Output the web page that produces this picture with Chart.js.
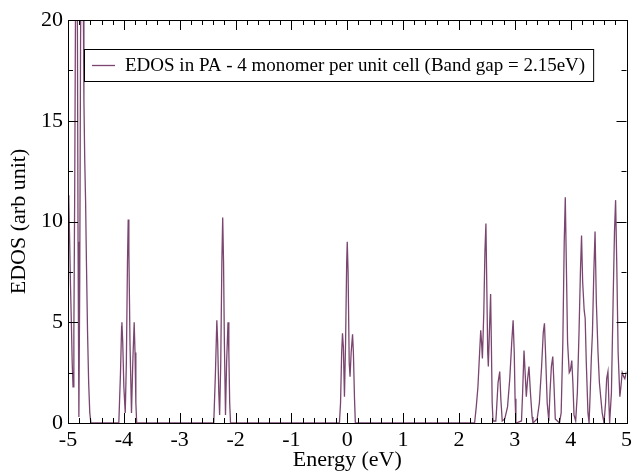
<!DOCTYPE html>
<html>
<head>
<meta charset="utf-8">
<script src="https://cdn.jsdelivr.net/npm/chart.js@4.4.1/dist/chart.umd.min.js"></script>
<style>
  html, body { margin: 0; padding: 0; background: #fff; }
  #wrap { width: 636px; height: 473px; }
</style>
</head>
<body>
<div id="wrap"><canvas id="edosChart" width="636" height="473"></canvas></div>
<script>
const energy = [
  // bottom valence region, peaks run off the top of the frame
  -5.00, -4.985, -4.97, -4.955, -4.94, -4.925, -4.91, -4.895, -4.88, -4.865, -4.85, -4.835, -4.82, -4.805,
  -4.79, -4.775, -4.76, -4.745, -4.73, -4.715, -4.70, -4.685, -4.67, -4.65, -4.63, -4.61, -4.59,
  // cluster near -4
  -4.09, -4.06, -4.04, -4.035, -4.02, -4.00, -3.975, -3.955, -3.935, -3.922, -3.91, -3.89, -3.863,
  -3.84, -3.815, -3.80, -3.785, -3.77,
  // cluster near -2.2
  -2.39, -2.36, -2.335, -2.32, -2.30, -2.285, -2.265, -2.245, -2.23, -2.215, -2.20, -2.18,
  -2.16, -2.135, -2.12, -2.105, -2.09,
  // cluster at 0
  -0.14, -0.12, -0.10, -0.085, -0.07, -0.05, -0.03, -0.01, 0.00, 0.015, 0.035, 0.05,
  0.07, 0.095, 0.11, 0.13, 0.145,
  // conduction band
  2.28, 2.31, 2.34, 2.37, 2.39, 2.405, 2.42, 2.445, 2.465, 2.483, 2.50, 2.515, 2.526, 2.545, 2.567,
  2.58, 2.595, 2.61, 2.66, 2.67, 2.70, 2.73, 2.75, 2.775, 2.82, 2.87, 2.91, 2.945, 2.97, 2.99,
  3.005, 3.02, 3.12, 3.14, 3.165, 3.185, 3.206, 3.23, 3.254, 3.28, 3.31, 3.325, 3.40, 3.44, 3.48,
  3.51, 3.531, 3.55, 3.58, 3.609, 3.63, 3.655, 3.68, 3.70, 3.725, 3.80, 3.83, 3.86, 3.885, 3.904,
  3.925, 3.945, 3.975, 3.995, 4.02, 4.04, 4.06, 4.09, 4.12, 4.15, 4.175, 4.195, 4.215, 4.242, 4.26,
  4.28, 4.31, 4.33, 4.35, 4.37, 4.39, 4.415, 4.437, 4.46, 4.49, 4.515, 4.538, 4.565, 4.597, 4.625,
  4.645, 4.668, 4.685, 4.698, 4.73, 4.76, 4.785, 4.805, 4.825, 4.85, 4.881, 4.90, 4.923, 4.95, 4.97,
  5.00,
];
const edos = [
  11.3, 11.0, 9.0, 6.8, 5.0, 3.0, 1.8, 4.5, 11.5, 21.0, 26.0, 23.0, 9.0, 0.3,
  7.0, 19.0, 26.0, 27.0, 23.0, 16.0, 13.0, 11.0, 8.0, 4.5, 2.0, 0.5, 0.0,

  0.0, 2.5, 4.8, 5.0, 4.0, 1.8, 0.5, 3.0, 8.0, 10.1, 8.5, 4.0, 0.5,
  3.0, 5.0, 3.5, 1.0, 0.0,

  0.0, 2.5, 5.1, 4.0, 1.5, 0.4, 3.0, 8.0, 10.2, 8.0, 4.0, 0.4,
  3.0, 5.0, 3.5, 1.0, 0.0,

  0.0, 1.0, 3.5, 4.45, 3.8, 1.3, 4.0, 8.0, 9.0, 7.5, 3.0, 2.3,
  3.5, 4.4, 3.5, 1.2, 0.0,

  0.0, 0.8, 1.8, 3.5, 4.6, 4.0, 3.2, 5.5, 8.5, 9.9, 6.5, 3.5, 2.8, 4.5, 6.4,
  4.0, 1.0, 0.1, 0.1, 0.5, 2.0, 2.55, 1.2, 0.1, 0.2, 0.8, 2.2, 4.0, 5.1, 3.5,
  1.2, 0.0, 0.1, 1.5, 3.6, 2.5, 1.3, 2.2, 2.8, 1.5, 0.3, 0.0, 0.2, 1.0, 2.8,
  4.5, 4.95, 3.5, 1.0, 0.1, 1.5, 2.8, 3.3, 2.0, 0.2, 0.0, 0.5, 4.0, 9.0, 11.2,
  7.5, 4.0, 2.5, 2.6, 3.1, 2.0, 0.4, 0.1, 1.5, 4.5, 7.5, 9.3, 7.0, 5.6, 5.2,
  3.0, 0.5, 0.0, 1.5, 3.2, 4.45, 7.5, 9.5, 6.0, 3.5, 2.0, 1.3, 0.5, 0.0, 1.0,
  2.2, 2.55, 1.0, 0.0, 1.5, 6.0, 9.5, 11.06, 8.0, 3.5, 1.3, 1.8, 2.5, 2.3, 2.2,
  2.55,
];

const xTicks = [-5, -4, -3, -2, -1, 0, 1, 2, 3, 4, 5];
const yTicks = [0, 5, 10, 15, 20];
const seriesLabel = "EDOS in PA - 4 monomer per unit cell (Band gap = 2.15eV)";

const SERIF = "'Liberation Serif', 'Times New Roman', serif";
const LINE_COLOR = "#7a466f";

// grace-style frame: box on all sides, major + minor ticks pointing inward
const frameTicks = {
  id: "frameTicks",
  afterDraw(chart) {
    const { ctx, chartArea: a, scales } = chart;
    const xs = scales.x, ys = scales.y;
    ctx.save();
    ctx.strokeStyle = "#000";
    ctx.lineWidth = 1;
    ctx.strokeRect(Math.round(a.left) + 0.5, Math.round(a.top) + 0.5,
      Math.round(a.right - a.left), Math.round(a.bottom - a.top));
    ctx.beginPath();
    for (let i = 0; i < xTicks.length; i++) {
      const v0 = xTicks[i];
      for (let k = 0; k < 5; k++) {
        const v = v0 + k * 0.2;
        if (v > xTicks[xTicks.length - 1] + 1e-9) break;
        const len = k === 0 ? 10 : 5;
        const px = Math.round(xs.getPixelForValue(v)) + 0.5;
        ctx.moveTo(px, a.bottom); ctx.lineTo(px, a.bottom - len);
        ctx.moveTo(px, a.top); ctx.lineTo(px, a.top + len);
      }
    }
    for (let i = 0; i < yTicks.length; i++) {
      const v0 = yTicks[i];
      for (let k = 0; k < 2; k++) {
        const v = v0 + k * 2.5;
        if (v > yTicks[yTicks.length - 1] + 1e-9) break;
        const len = k === 0 ? 10 : 5;
        const py = Math.round(ys.getPixelForValue(v)) + 0.5;
        ctx.moveTo(a.left, py); ctx.lineTo(a.left + len, py);
        ctx.moveTo(a.right, py); ctx.lineTo(a.right - len, py);
      }
    }
    ctx.stroke();
    ctx.restore();
  },
};

// boxed legend inside the plot, drawn over the curve
const boxLegend = {
  id: "boxLegend",
  afterDatasetsDraw(chart) {
    const { ctx, chartArea: a } = chart;
    const ds = chart.data.datasets[0];
    ctx.save();
    ctx.font = "19px " + SERIF;
    const textW = ctx.measureText(ds.label).width;
    const left = a.left + 16, top = a.top + 29, h = 32;
    const lineX = left + 8, textX = left + 41;
    const w = textX - left + textW + 8;
    ctx.fillStyle = "#fff";
    ctx.fillRect(left, top, w, h);
    ctx.strokeStyle = "#000";
    ctx.lineWidth = 1;
    ctx.strokeRect(left + 0.5, top + 0.5, w, h);
    ctx.strokeStyle = ds.borderColor;
    ctx.lineWidth = 1.3;
    ctx.beginPath();
    ctx.moveTo(lineX, top + h / 2 + 0.5);
    ctx.lineTo(lineX + 23, top + h / 2 + 0.5);
    ctx.stroke();
    ctx.fillStyle = "#000";
    ctx.textBaseline = "middle";
    ctx.fillText(ds.label, textX, top + h / 2 + 1);
    ctx.restore();
  },
};

const points = energy.map((e, i) => ({ x: e, y: edos[i] }));

new Chart(document.getElementById("edosChart"), {
  type: "line",
  data: {
    datasets: [
      {
        label: seriesLabel,
        data: points,
        borderColor: LINE_COLOR,
        borderWidth: 1.3,
        pointRadius: 0,
        tension: 0,
        fill: false,
      },
    ],
  },
  options: {
    responsive: false,
    animation: false,
    layout: { padding: { top: 20, right: 5, left: 0, bottom: 0 } },
    plugins: {
      legend: { display: false },
      tooltip: { enabled: false },
    },
    scales: {
      x: {
        type: "linear",
        min: -5,
        max: 5,
        afterBuildTicks: (s) => { s.ticks = xTicks.map((v) => ({ value: v })); },
        afterFit: (s) => { s.height = 50; },
        grid: { display: false, drawTicks: false },
        border: { display: false },
        ticks: {
          color: "#000",
          padding: 4,
          maxRotation: 0,
          autoSkip: false,
          font: { family: SERIF, size: 22 },
          callback: (v) => String(v),
        },
        title: {
          display: true,
          text: "Energy (eV)",
          color: "#000",
          padding: { top: 0, bottom: 0 },
          font: { family: SERIF, size: 22 },
        },
      },
      y: {
        min: 0,
        max: 20,
        afterBuildTicks: (s) => { s.ticks = yTicks.map((v) => ({ value: v })); },
        afterFit: (s) => { s.width = 68; },
        grid: { display: false, drawTicks: false },
        border: { display: false },
        ticks: {
          color: "#000",
          padding: 5,
          font: { family: SERIF, size: 22 },
          callback: (v) => String(v),
        },
        title: {
          display: true,
          text: "EDOS (arb unit)",
          color: "#000",
          padding: { top: 6, bottom: 0 },
          font: { family: SERIF, size: 22 },
        },
      },
    },
  },
  plugins: [frameTicks, boxLegend],
});
</script>
</body>
</html>
